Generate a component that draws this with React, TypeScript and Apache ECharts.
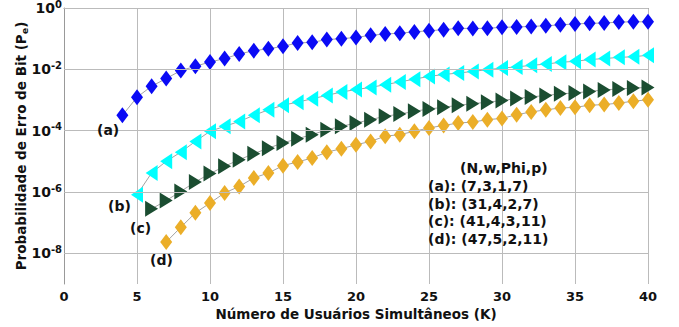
import React, { useEffect, useRef } from "react";
import * as echarts from "echarts";

// log10 of bit error probability
const startA = 4;
const logPeA = [-3.50, -2.91, -2.55, -2.30, -2.04, -1.90, -1.76, -1.65, -1.50, -1.39, -1.33, -1.25,
  -1.14, -1.12, -1.03, -1.00, -0.96, -0.89, -0.85, -0.82, -0.78, -0.74, -0.71, -0.66,
  -0.67, -0.66, -0.63, -0.62, -0.60, -0.58, -0.55, -0.52, -0.50, -0.49, -0.46, -0.45, -0.45];
const startB = 5;
const logPeB = [-6.09, -5.38, -5.00, -4.70, -4.35, -4.02, -3.86, -3.70, -3.50, -3.32, -3.17,
  -3.07, -2.96, -2.85, -2.74, -2.66, -2.59, -2.50, -2.41, -2.32, -2.23, -2.17, -2.12,
  -2.07, -2.01, -1.96, -1.92, -1.87, -1.83, -1.77, -1.74, -1.68, -1.65, -1.61, -1.59, -1.54];
const startC = 6;
const logPeC = [-6.55, -6.28, -5.98, -5.67, -5.40, -5.16, -4.95, -4.75, -4.57, -4.40,
  -4.26, -4.13, -3.97, -3.86, -3.75, -3.64, -3.53, -3.46, -3.37, -3.29, -3.24, -3.17,
  -3.12, -3.07, -3.02, -2.95, -2.90, -2.85, -2.80, -2.77, -2.72, -2.67, -2.64, -2.61, -2.59];
const startD = 7;
const logPeD = [-7.63, -7.15, -6.68, -6.36, -6.03, -5.82, -5.54, -5.38, -5.14,
  -5.02, -4.89, -4.70, -4.59, -4.46, -4.35, -4.18, -4.13, -4.02, -3.91, -3.83, -3.75,
  -3.72, -3.64, -3.60, -3.48, -3.39, -3.32, -3.26, -3.24, -3.17, -3.15, -3.10, -3.04, -2.99];

const yGridDecades = [0, -2, -4, -6, -8];
const legendTitle = "(N,w,Phi,p)";
const legendLines = ["(a): (7,3,1,7)", "(b): (31,4,2,7)", "(c): (41,4,3,11)", "(d): (47,5,2,11)"];

const FONT = "DejaVu Sans";

function pairs(start: number, vals: number[]) {
  return vals.map((v, i) => [start + i, v]);
}

export default function App() {
  const ref = useRef<HTMLDivElement>(null);
  useEffect(() => {
    document.body.style.margin = "0";
    const chart = echarts.init(ref.current!, null, { renderer: "svg" });
    const lineStyle = { color: "#8a8a8a", width: 0.8 };
    const txt = (text: string, x: number, y: number) => ({
      type: "text",
      left: x,
      top: y,
      z: 100,
      style: { text, font: `bold 14px "${FONT}"`, fill: "#111" },
    });
    chart.setOption({
      animation: false,
      backgroundColor: "#fff",
      grid: { left: 64, right: 31, top: 8, bottom: 43, outerBoundsMode: "none", containLabel: false },
      xAxis: {
        type: "value",
        min: 0,
        max: 40,
        interval: 5,
        axisLine: { lineStyle: { color: "#999" } },
        axisTick: { show: false },
        splitLine: { show: true, lineStyle: { color: "#bbb", width: 1 } },
        axisLabel: { fontFamily: FONT, fontWeight: "bold", fontSize: 13, color: "#111", margin: 6 },
        name: "Número de Usuários Simultâneos (K)",
        nameLocation: "middle",
        nameGap: 23,
        nameMoveOverlap: false,
        nameTextStyle: { fontFamily: FONT, fontWeight: "bold", fontSize: 13.5, color: "#111" },
      },
      yAxis: {
        type: "value",
        min: -9,
        max: 0,
        interval: 1,
        axisLine: { show: true, lineStyle: { color: "#999" } },
        axisTick: { show: false },
        splitLine: { show: false },
        axisLabel: {
          margin: 2,
          formatter: (v: number) => (Math.round(v) % 2 === 0 ? `{b|10}{s|${v}}` : ""),
          rich: {
            b: { fontFamily: FONT, fontWeight: "bold", fontSize: 14, color: "#111", lineHeight: 20 },
            s: { fontFamily: FONT, fontWeight: "bold", fontSize: 10, color: "#111", lineHeight: 20, padding: [0, 0, 8, 0] },
          },
        },
        name: "{t|Probabilidade de Erro de Bit (P}{sub|e}{t|)}",
        nameLocation: "middle",
        nameGap: 34,
        nameMoveOverlap: false,
        nameTextStyle: {
          rich: {
            t: { fontFamily: FONT, fontWeight: "bold", fontSize: 13.5, color: "#111", lineHeight: 18 },
            sub: { fontFamily: FONT, fontWeight: "bold", fontSize: 9.5, color: "#111", lineHeight: 18, padding: [6, 0, 0, 0] },
          },
        },
      },
      series: [
        {
          type: "line",
          data: [],
          z: 1,
          silent: true,
          markLine: {
            silent: true,
            symbol: "none",
            label: { show: false },
            lineStyle: { color: "#bbb", width: 1, type: "solid" },
            data: yGridDecades.map((d) => ({ yAxis: d })),
          },
        },
        {
          type: "line",
          data: pairs(startA, logPeA),
          symbol: "diamond",
          symbolSize: [12, 16],
          itemStyle: { color: "#0a0af5" },
          lineStyle,
        },
        {
          type: "line",
          data: pairs(startB, logPeB),
          symbol: "triangle",
          symbolRotate: 90,
          symbolSize: [16, 12],
          itemStyle: { color: "#00ffff" },
          lineStyle,
        },
        {
          type: "line",
          data: pairs(startC, logPeC),
          symbol: "triangle",
          symbolRotate: -90,
          symbolSize: [16, 13],
          itemStyle: { color: "#1b4d31" },
          lineStyle,
        },
        {
          type: "line",
          data: pairs(startD, logPeD),
          symbol: "diamond",
          symbolSize: [12, 16],
          itemStyle: { color: "#ebae28" },
          lineStyle,
        },
      ],
      graphic: [
        txt("(a)", 97, 123),
        txt("(b)", 108, 199),
        txt("(c)", 130, 221),
        txt("(d)", 150, 253),
        txt(legendTitle, 460, 161),
        ...legendLines.map((l, i) => txt(l, 428, 179 + i * 17.5)),
      ],
    });
    return () => chart.dispose();
  }, []);
  return <div ref={ref} style={{ width: 679, height: 327 }} />;
}
